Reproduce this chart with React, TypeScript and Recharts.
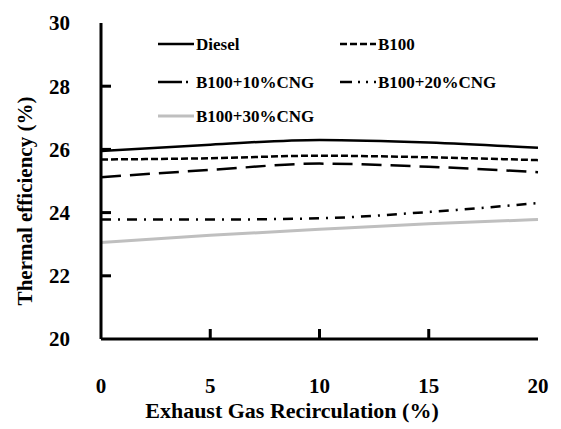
import { LineChart, Line, XAxis, YAxis, Label } from "recharts";

const egr = [0, 5, 10, 15, 20];
const diesel = [25.95, 26.15, 26.3, 26.22, 26.05];
const b100 = [25.68, 25.72, 25.8, 25.75, 25.66];
const b100cng10 = [25.12, 25.35, 25.55, 25.45, 25.28];
const b100cng20 = [23.78, 23.78, 23.82, 24.02, 24.3];
const b100cng30 = [23.05, 23.28, 23.47, 23.65, 23.78];

const xTicks = [0, 5, 10, 15, 20];
const yTicks = [20, 22, 24, 26, 28, 30];

const FONT = "'Liberation Serif', 'Times New Roman', serif";

const data = egr.map((x, i) => ({
  egr: x,
  diesel: diesel[i],
  b100: b100[i],
  cng10: b100cng10[i],
  cng20: b100cng20[i],
  cng30: b100cng30[i],
}));

const SERIES = [
  { key: "diesel", name: "Diesel", color: "#000", dash: undefined, legendDash: undefined, width: 2.5 },
  { key: "b100", name: "B100", color: "#000", dash: "7 3", legendDash: "7 3", width: 2.5 },
  { key: "cng10", name: "B100+10%CNG", color: "#000", dash: "20 9", legendDash: "24 4 2 6", width: 2.5 },
  { key: "cng20", name: "B100+20%CNG", color: "#000", dash: "10 7 2 7", legendDash: "12 6 2 6 2 6", width: 2.5 },
  { key: "cng30", name: "B100+30%CNG", color: "#bfbfbf", dash: undefined, legendDash: undefined, width: 3 },
];

// inner tick marks drawn by the tick renderers (frame edges skip them)
const xTick = (props: any) => {
  const { x, y, payload } = props;
  const inner = payload.value !== xTicks[0] && payload.value !== xTicks[xTicks.length - 1];
  return (
    <g>
      {inner && <rect x={x - 1.5} y={y - 10} width={3} height={10} fill="#000" />}
      <text x={x} y={y + 54} textAnchor="middle" fontFamily={FONT} fontWeight="bold" fontSize={21} fill="#000">
        {payload.value}
      </text>
    </g>
  );
};

const yTick = (props: any) => {
  const { x, y, payload } = props;
  const inner = payload.value !== yTicks[0] && payload.value !== yTicks[yTicks.length - 1];
  return (
    <g>
      {inner && <rect x={x} y={y - 1.5} width={10} height={3} fill="#000" />}
      <text x={x - 31} y={y} dy="0.35em" textAnchor="end" fontFamily={FONT} fontWeight="bold" fontSize={21} fill="#000">
        {payload.value}
      </text>
    </g>
  );
};

const legendPos = [
  { x: 158, y: 44 },
  { x: 340, y: 44 },
  { x: 158, y: 82 },
  { x: 340, y: 82 },
  { x: 158, y: 116 },
];

const LegendBox = () => (
  <svg width={561} height={429} style={{ position: "absolute", left: 0, top: 0, pointerEvents: "none" }}>
    {SERIES.map((s, i) => {
      const p = legendPos[i];
      return (
        <g key={s.key}>
          <line x1={p.x} x2={p.x + 36} y1={p.y} y2={p.y} stroke={s.color} strokeWidth={s.width} strokeDasharray={s.legendDash} />
          <text x={p.x + 38} y={p.y} dy="0.35em" fontFamily={FONT} fontWeight="bold" fontSize={17} fill="#000">
            {s.name}
          </text>
        </g>
      );
    })}
  </svg>
);

export default function App() {
  return (
    <div style={{ position: "absolute", left: 0, top: 0, width: 561, height: 429, background: "#fff" }}>
      <LineChart width={561} height={429} data={data} margin={{ top: 23, right: 23, bottom: 0, left: 0 }}>
        <XAxis
          dataKey="egr"
          type="number"
          domain={[0, 20]}
          ticks={xTicks}
          tick={xTick}
          tickLine={false}
          tickSize={0}
          tickMargin={0}
          axisLine={{ stroke: "#000", strokeWidth: 3 }}
          height={90}
        >
          <Label
            content={() => (
              <text x={292} y={418} textAnchor="middle" fontFamily={FONT} fontWeight="bold" fontSize={22} fill="#000">
                Exhaust Gas Recirculation (%)
              </text>
            )}
          />
        </XAxis>
        <XAxis xAxisId="top" orientation="top" dataKey="egr" type="number" domain={[0, 20]} tick={false} tickLine={false} height={0} axisLine={{ stroke: "#000", strokeWidth: 3 }} />
        <YAxis
          domain={[20, 30]}
          ticks={yTicks}
          tick={yTick}
          tickLine={false}
          tickSize={0}
          tickMargin={0}
          width={101}
          axisLine={{ stroke: "#000", strokeWidth: 3 }}
        >
          <Label
            content={() => (
              <text x={32} y={201} transform="rotate(-90 32 201)" textAnchor="middle" fontFamily={FONT} fontWeight="bold" fontSize={21} fill="#000">
                Thermal efficiency (%)
              </text>
            )}
          />
        </YAxis>
        <YAxis yAxisId="right" orientation="right" domain={[20, 30]} tick={false} tickLine={false} width={0} axisLine={{ stroke: "#000", strokeWidth: 3 }} />
        {SERIES.map((s) => (
          <Line
            key={s.key}
            type="monotone"
            dataKey={s.key}
            name={s.name}
            stroke={s.color}
            strokeWidth={s.width}
            strokeDasharray={s.dash}
            dot={false}
            activeDot={false}
            isAnimationActive={false}
          />
        ))}
      </LineChart>
      <LegendBox />
    </div>
  );
}
